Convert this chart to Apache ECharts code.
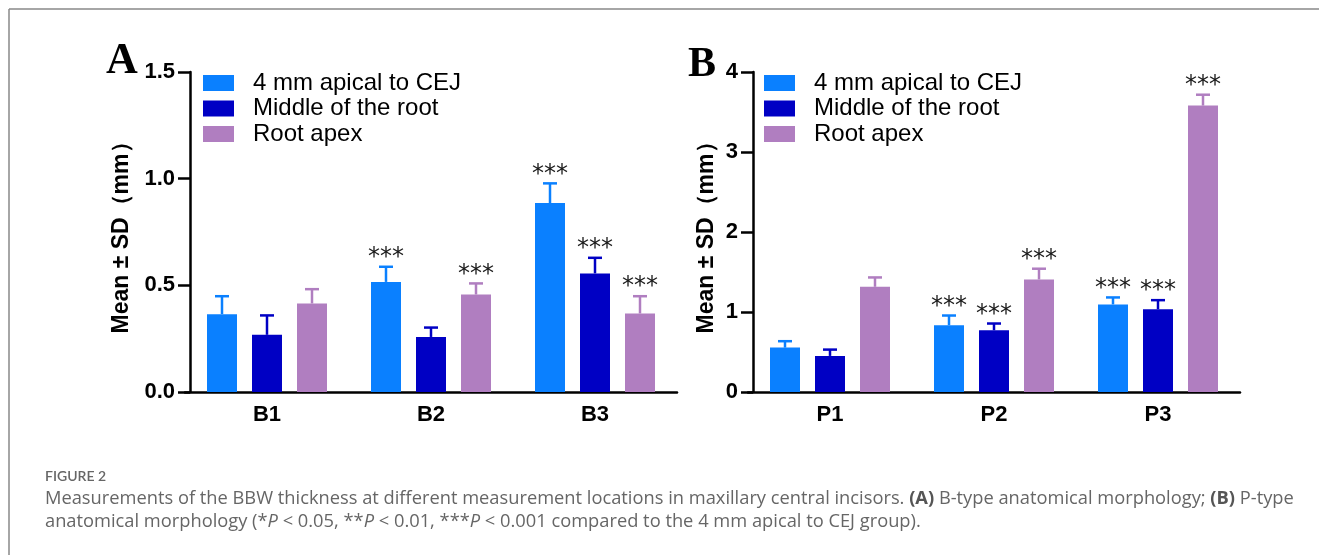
<!DOCTYPE html>
<html>
<head>
<meta charset="utf-8">
<title>Figure 2</title>
<script src="https://cdn.jsdelivr.net/npm/echarts@6/dist/echarts.min.js"></script>
<style>
  html, body { margin: 0; padding: 0; background: #fff; }
  #chart { width: 1319px; height: 555px; }
</style>
</head>
<body>
<div id="chart"></div>
<script>
// categories
const categoriesA = ['B1', 'B2', 'B3'];
const categoriesB = ['P1', 'P2', 'P3'];
const seriesNames = ['4 mm apical to CEJ', 'Middle of the root', 'Root apex'];

// panel A (B-type) mean and SD, mm
const cejA = [0.365, 0.516, 0.886];
const midA = [0.268, 0.258, 0.556];
const apexA = [0.415, 0.457, 0.368];
const cejA_sd = [0.084, 0.071, 0.092];
const midA_sd = [0.091, 0.044, 0.073];
const apexA_sd = [0.067, 0.052, 0.081];

// panel B (P-type) mean and SD, mm
const cejB = [0.555, 0.835, 1.095];
const midB = [0.451, 0.772, 1.034];
const apexB = [1.315, 1.407, 3.580];
const cejB_sd = [0.080, 0.121, 0.087];
const midB_sd = [0.079, 0.084, 0.114];
const apexB_sd = [0.117, 0.134, 0.136];

// significance marks vs 4 mm apical to CEJ group
const sigA_cej = ['', '***', '***'];
const sigA_mid = ['', '', '***'];
const sigA_apex = ['', '***', '***'];
const sigB_cej = ['', '***', '***'];
const sigB_mid = ['', '***', '***'];
const sigB_apex = ['', '***', '***'];

// y axis ticks
const yTicksA = [0, 0.5, 1.0, 1.5];
const yTicksB = [0, 1, 2, 3, 4];

const colors = ['#0A80FF', '#0000C4', '#B07EC0'];
const barW = 30;
const offsets = [-45, 0, 45]; // bar centre offsets within a group (barWidth + 50% gap)
const font = 'Liberation Sans, Arial, sans-serif';

const chart = echarts.init(document.getElementById('chart'));

function barSeries(name, data, axis, i) {
  return {
    name: name, type: 'bar', xAxisIndex: axis, yAxisIndex: axis,
    data: data, barWidth: barW, barGap: '50%',
    itemStyle: { color: colors[i] },
    emphasis: { disabled: true }
  };
}

// error bar (upper only) + significance stars
function errSeries(means, sds, sig, axis, i) {
  return {
    name: 'err' + axis + i, type: 'custom', xAxisIndex: axis, yAxisIndex: axis,
    data: means.map((m, k) => [k, m, m + sds[k]]),
    z: 3, silent: true, clip: false,
    renderItem: function (params, api) {
      const k = api.value(0);
      const base = api.coord([k, api.value(1)]);
      const top = api.coord([k, api.value(2)]);
      const x = base[0] + offsets[i];
      const lineStyle = { stroke: colors[i], lineWidth: 2.5 };
      const children = [
        { type: 'line', shape: { x1: x, y1: base[1], x2: x, y2: top[1] }, style: lineStyle },
        { type: 'line', shape: { x1: x - 7, y1: top[1], x2: x + 7, y2: top[1] }, style: lineStyle }
      ];
      if (sig[k]) {
        children.push({
          type: 'text',
          style: {
            text: sig[k], x: x, y: top[1] + 3,
            fill: '#1a1a1a', font: '24px DejaVu Sans, sans-serif',
            align: 'center', verticalAlign: 'bottom'
          }
        });
      }
      return { type: 'group', children: children };
    }
  };
}

function yAxis(grid, ticks, fmt, gap) {
  return {
    type: 'value', gridIndex: grid,
    min: ticks[0], max: ticks[ticks.length - 1], interval: ticks[1] - ticks[0],
    offset: -5,
    name: 'Mean ± SD（mm）', nameLocation: 'middle', nameGap: gap,
    nameTextStyle: { fontFamily: font, fontSize: 23, fontWeight: 'bold', color: '#000' },
    axisLine: { show: true, lineStyle: { color: '#000', width: 2.5 } },
    axisTick: { show: true, length: 12, lineStyle: { color: '#000', width: 2.5 } },
    axisLabel: { formatter: fmt, fontFamily: font, fontSize: 22, fontWeight: 'bold', color: '#000', margin: 15 },
    splitLine: { show: false }
  };
}

function xAxis(grid, cats) {
  return {
    type: 'category', gridIndex: grid, data: cats,
    axisLine: { lineStyle: { color: '#000', width: 2.5 } },
    axisTick: { alignWithLabel: true, length: 12, lineStyle: { color: '#000', width: 2.5 } },
    axisLabel: { fontFamily: font, fontSize: 22, fontWeight: 'bold', color: '#000', margin: 12 }
  };
}

function legend(left) {
  return {
    data: seriesNames, orient: 'vertical', left: left, top: 71, padding: 0,
    icon: 'rect', itemWidth: 31, itemHeight: 16, itemGap: 1.5,
    textStyle: { fontFamily: font, fontSize: 24, lineHeight: 24, color: '#000', padding: [0, 0, 0, 14] },
    selectedMode: false
  };
}

const option = {
  animation: false,
  backgroundColor: '#fff',
  grid: [
    { left: 185, width: 492, top: 72, height: 320 },
    { left: 748, width: 492, top: 72, height: 320 }
  ],
  xAxis: [xAxis(0, categoriesA), xAxis(1, categoriesB)],
  yAxis: [
    yAxis(0, yTicksA, v => v.toFixed(1), 57),
    yAxis(1, yTicksB, v => String(v), 35)
  ],
  legend: [legend(203), legend(764)],
  series: [
    barSeries(seriesNames[0], cejA, 0, 0),
    barSeries(seriesNames[1], midA, 0, 1),
    barSeries(seriesNames[2], apexA, 0, 2),
    errSeries(cejA, cejA_sd, sigA_cej, 0, 0),
    errSeries(midA, midA_sd, sigA_mid, 0, 1),
    errSeries(apexA, apexA_sd, sigA_apex, 0, 2),
    barSeries(seriesNames[0], cejB, 1, 0),
    barSeries(seriesNames[1], midB, 1, 1),
    barSeries(seriesNames[2], apexB, 1, 2),
    errSeries(cejB, cejB_sd, sigB_cej, 1, 0),
    errSeries(midB, midB_sd, sigB_mid, 1, 1),
    errSeries(apexB, apexB_sd, sigB_apex, 1, 2)
  ],
  graphic: [
    // frame
    { type: 'line', shape: { x1: 9, y1: 9, x2: 1319, y2: 9 }, style: { stroke: '#888', lineWidth: 1.5 } },
    { type: 'line', shape: { x1: 9, y1: 9, x2: 9, y2: 555 }, style: { stroke: '#888', lineWidth: 1.5 } },
    // panel letters
    { type: 'text', x: 106, y: 84, style: { text: 'A', font: 'bold 44px Liberation Serif, Times New Roman, serif', fill: '#000', verticalAlign: 'bottom' } },
    { type: 'text', x: 688, y: 86, style: { text: 'B', font: 'bold 42px Liberation Serif, Times New Roman, serif', fill: '#000', verticalAlign: 'bottom' } },
    // caption
    { type: 'text', x: 45, y: 469, style: { text: 'FIGURE 2', font: '600 14px Lato, sans-serif', fill: '#666', verticalAlign: 'top' } },
    {
      type: 'text', x: 45, y: 490,
      style: {
        text: 'Measurements of the BBW thickness at different measurement locations in maxillary central incisors. {b|(A)} B-type anatomical morphology; {b|(B)} P-type',
        font: '18.3px Open Sans, sans-serif', fill: '#666', verticalAlign: 'top',
        rich: { b: { font: 'bold 18.3px Open Sans, sans-serif', fill: '#555' } }
      }
    },
    {
      type: 'text', x: 45, y: 513,
      style: {
        text: 'anatomical morphology (*{i|P} < 0.05, **{i|P} < 0.01, ***{i|P} < 0.001 compared to the 4 mm apical to CEJ group).',
        font: '18.3px Open Sans, sans-serif', fill: '#666', verticalAlign: 'top',
        rich: { i: { font: 'italic 18.3px Open Sans, sans-serif', fill: '#666' } }
      }
    }
  ]
};

chart.setOption(option);
</script>
</body>
</html>
